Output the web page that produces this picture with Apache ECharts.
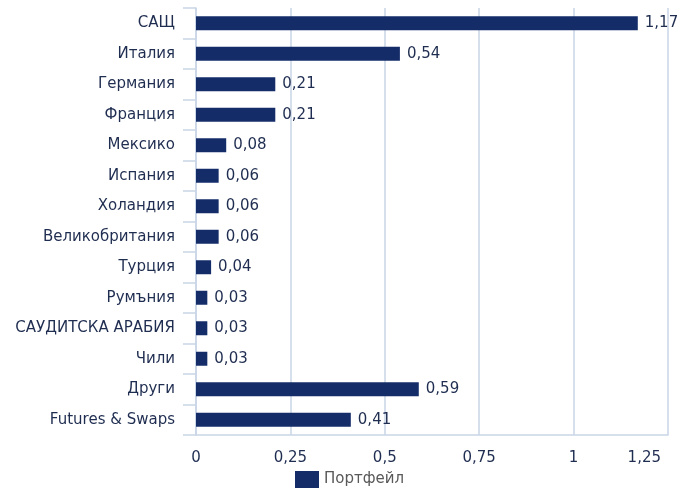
<!DOCTYPE html>
<html>
<head>
<meta charset="utf-8">
<script src="https://cdn.jsdelivr.net/npm/echarts@6/dist/echarts.min.js"></script>
<style>
  html, body { margin: 0; padding: 0; background: #fff; }
  #chart { width: 682px; height: 496px; }
</style>
</head>
<body>
<div id="chart"></div>
<script>
var countries = ['САЩ', 'Италия', 'Германия', 'Франция', 'Мексико', 'Испания', 'Холандия',
    'Великобритания', 'Турция', 'Румъния', 'САУДИТСКА АРАБИЯ', 'Чили', 'Други', 'Futures & Swaps'];
var weights = [1.17, 0.54, 0.21, 0.21, 0.08, 0.06, 0.06, 0.06, 0.04, 0.03, 0.03, 0.03, 0.59, 0.41];
var seriesName = 'Портфейл';
var axisMax = 1.25;

var font = 'DejaVu Sans';
var fmt = function (v) { return String(v).replace('.', ','); };

var myChart = echarts.init(document.getElementById('chart'));
var option = {
    animation: false,
    grid: { left: 196, right: 14, top: 8, bottom: 61, outerBoundsMode: 'none', containLabel: false },
    legend: {
        bottom: 3,
        left: 290,
        icon: 'rect',
        itemWidth: 24,
        itemHeight: 17,
        itemGap: 5,
        textStyle: { color: '#595959', fontSize: 15, fontFamily: font },
        data: [seriesName]
    },
    xAxis: {
        type: 'value',
        min: 0,
        max: axisMax,
        interval: 0.25,
        axisLine: { show: true, lineStyle: { color: '#c9d5e6', width: 1.5 } },
        axisTick: { show: false },
        splitLine: { show: true, lineStyle: { color: '#c9d5e6', width: 1.5 } },
        axisLabel: {
            color: '#1f2d50', fontSize: 15, fontFamily: font, margin: 16,
            alignMaxLabel: 'right',
            formatter: function (v) {
                // последния етикет е избутан навътре
                return v === axisMax ? '{last|' + fmt(v) + '}' : fmt(v);
            },
            rich: {
                last: { color: '#1f2d50', fontSize: 15, fontFamily: font, padding: [0, 7, 0, 0] }
            }
        }
    },
    yAxis: {
        type: 'category',
        inverse: true,
        data: countries,
        axisLine: { show: true, lineStyle: { color: '#c9d5e6', width: 1.5 } },
        axisTick: { show: true, length: 13, lineStyle: { color: '#c9d5e6', width: 1.5 } },
        axisLabel: { color: '#1f2d50', fontSize: 15, fontFamily: font, margin: 21 }
    },
    series: [{
        name: seriesName,
        type: 'bar',
        data: weights,
        barWidth: 14,
        itemStyle: { color: '#142d69' },
        label: {
            show: true,
            position: 'right',
            distance: 7,
            color: '#1f2d50',
            fontSize: 15,
            fontFamily: font,
            formatter: function (p) { return fmt(p.value); }
        }
    }]
};
myChart.setOption(option);
</script>
</body>
</html>
